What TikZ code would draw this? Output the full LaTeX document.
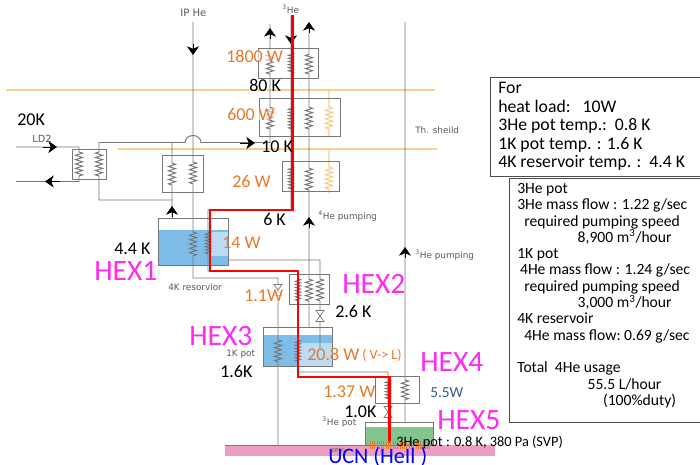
\documentclass[tikz,border=0pt]{standalone}
\usepackage{fontspec}
\usepackage{xcolor}
\setmainfont{Carlito}
\newfontfamily\smallfont{DejaVu Sans}
\usetikzlibrary{arrows.meta,decorations.pathmorphing,fit}
\definecolor{pipegray}{HTML}{777777}
\definecolor{loadorange}{HTML}{E8782A}
\definecolor{shieldorange}{HTML}{F5D08F}
\definecolor{hexpink}{HTML}{FF2BF0}
\definecolor{lhe}{HTML}{7DBDE8}
\definecolor{lhelight}{HTML}{BCDCF2}
\definecolor{pothe}{HTML}{84C48E}
\definecolor{ucnpink}{HTML}{EE9FC1}
\definecolor{coldblue}{HTML}{2F5A8F}

\begin{document}
\begin{tikzpicture}[
    x=0.025cm, y=-0.025cm,
    pipe/.style={draw=pipegray, line width=0.7pt},
    shield/.style={draw=shieldorange, line width=0.8pt},
    hxbox/.style={rectangle, draw=pipegray, line width=0.7pt, inner sep=0pt, outer sep=0pt},
    infobox/.style={rectangle, draw=black!70, line width=0.7pt, inner sep=0pt, outer sep=0pt},
    coil/.style={decoration={zigzag, amplitude=2.5pt, segment length=3.1pt}},
    finecoil/.style={decoration={zigzag, amplitude=1.8pt, segment length=2.2pt}},
    flow/.style={-{Stealth[length=6.2pt, width=8.6pt, inset=1.8pt]}, black, line width=0.6pt},
    hotline/.style={draw=red, line width=1.9pt, line join=miter},
    temp/.style={font=\fontsize{12.8}{14}\selectfont, anchor=west, inner sep=0pt},
    load/.style={font=\fontsize{12.8}{14}\selectfont, text=loadorange, anchor=west, inner sep=0pt},
    hexname/.style={font=\fontsize{21}{24}\selectfont, text=hexpink, anchor=west, inner sep=0pt},
    tag/.style={font=\smallfont\fontsize{6.3}{8}\selectfont, text=black!65, anchor=west, inner sep=0pt},
    valve/.pic={\draw[pipegray, fill=white, line width=0.5pt] (-4,-5.5) -- (4,-5.5) -- (-4,5.5) -- (4,5.5) -- cycle;}
]
\useasboundingbox (0,0) rectangle (700,465);

% Liquid and floor
\fill[ucnpink] (225,445) rectangle (495,456);
\fill[lhe] (158.5,230) rectangle (228,265);
\fill[lhelight] (210,232) rectangle (228,256);
\fill[lhe] (263,335) rectangle (332,366);
\fill[lhelight] (298,343) rectangle (332,366);
\fill[pothe] (365,427) rectangle (433,445);

% Thermal shield levels
\draw[shield] (6,90) -- (435,90);
\draw[shield] (118,149) -- (437,149);
\draw[shield] (329,90) -- (329,107) decorate[coil, decorate] {-- (329,129)} -- (329,136);
\draw[shield] (329,149) -- (329,167) decorate[coil, decorate] {-- (329,190)} -- (329,193);

% Exchanger boxes
\node[hxbox, fit={(258,48) (318,78)}] (stage80) {};
\node[hxbox, fit={(259,98) (340,136)}] (stage10) {};
\node[hxbox, fit={(282,161) (339,191)}] (stage6) {};
\node[hxbox, fit={(72.5,149) (106,179)}] (ldbox) {};
\node[hxbox, fit={(162,155.5) (203.5,192)}] (ipbox) {};
\node[hxbox, fit={(158.5,218) (228,265)}] (reservoir) {};
\node[hxbox, fit={(289,274) (329,304)}] (hextwo) {};
\node[hxbox, fit={(263,327) (332,366)}] (onekpot) {};
\node[hxbox, fit={(375,376) (419,403)}] (hexfour) {};
\node[hxbox, fit={(365,422) (433,445)}] (hepot) {};

% IP He line
\draw[pipe] (193,22) -- (193,162) decorate[coil, decorate] {-- (193,185)} -- (193,232)
    decorate[coil, decorate] {-- (193,256)} -- (193,278) -- (278,278) -- (278,340)
    decorate[coil, decorate] {-- (278,362)} -- (278,445);
\draw[pipe] (225,445) -- (365,445);

% LD2 line
\draw[pipe] (16,147) -- (79,147) -- (79,152) decorate[coil, decorate] {-- (79,176)} -- (79,181.5) -- (16,181.5);

% Return line to the top
\draw[pipe] (172,200) -- (99,200) -- (99,176) decorate[coil, decorate] {-- (99,152)} -- (99,142.5) -- (185,142.5)
    arc[start angle=180, end angle=360, x radius=8, y radius=7] -- (270,142.5) -- (270,129)
    decorate[coil, decorate] {-- (270,107)} -- (270,74) decorate[coil, decorate] {-- (270,53)} -- (270,24);
\draw[pipe] (172,218) -- (172,185) decorate[coil, decorate] {-- (172,162)} -- (172,142.5);

% 4He pumping
\draw[pipe] (309,327) -- (309,301) decorate[coil, decorate] {-- (309,279)} -- (309,190)
    decorate[coil, decorate] {-- (309,167)} -- (309,129) decorate[coil, decorate] {-- (309,107)} -- (309,74)
    decorate[coil, decorate] {-- (309,53)} -- (309,24);
\draw[pipe] (228,260) -- (320,260) -- (320,279) decorate[coil, decorate] {-- (320,301)} -- (320,350);

% 3He pumping
\draw[pipe] (405,22) -- (405,380) decorate[coil, decorate] {-- (405,400)} -- (405,422);

% 3He line
\draw[pipe] (291,16) -- (291,53) decorate[finecoil, decorate] {-- (291,74)} -- (291,107)
    decorate[finecoil, decorate] {-- (291,129)} -- (291,167) decorate[finecoil, decorate] {-- (291,190)}
    -- (291,210) -- (208,210) -- (208,232) decorate[finecoil, decorate] {-- (208,254)} -- (208,271)
    -- (298,271) -- (298,279) decorate[finecoil, decorate] {-- (298,301)} -- (298,340)
    decorate[finecoil, decorate] {-- (298,362)} -- (298,372) -- (388,372) -- (388,380)
    decorate[finecoil, decorate] {-- (388,400)} -- (388,425);

% Valves
\pic at (278,290) {valve};
\pic at (320,316) {valve};
\pic at (388,412) {valve};

% Flow arrows
\draw[flow] (193,44) -- (193,55);
\draw[flow] (43,147) -- (57,147);
\draw[flow] (60,181.5) -- (45,181.5);
\draw[flow] (172,217) -- (172,206);
\draw[flow] (270,39) -- (270,28);
\draw[flow] (291,33) -- (291,44);
\draw[flow] (309,33) -- (309,22);
\draw[flow] (309,228) -- (309,217);
\draw[flow] (405,258) -- (405,247);
\draw[flow] (240,143) -- (255,143);

% Hot path
\draw[hotline] (292.5,15) -- (292.5,210) -- (210,210) -- (210,271) -- (298,271) -- (298,377) -- (389.5,377) -- (389.5,443);

% UCN converter
\foreach \x in {370,372.3,...,430}
    \draw[loadorange, line width=0.5pt] (\x,441) -- (\x,449);

% Heat loads
\node[load, fill=white, fill opacity=0.6, text opacity=1] (load1800) at (226,56) {1800 W};
\node[load, fill=white, fill opacity=0.6, text opacity=1] (load600) at (227,114) {600 W};
\node[load] (load26) at (232,181) {26 W};
\node[load] (load14) at (222,243) {14 W};
\node[load, fill=white, fill opacity=0.6, text opacity=1] (load11) at (244,296) {1.1W};
\node[load] (load208) at (307,354) {20.8 W};
\node[load, font=\fontsize{10}{12}\selectfont] (loadvl) at (362,355) {( V-> L)};
\node[load] (load137) at (323,392) {1.37 W};
\node[temp, text=coldblue, font=\fontsize{10.9}{12}\selectfont] (load55) at (430,393) {5.5W};

% Temperatures
\node[temp] (temp20) at (17,120) {20K};
\node[temp] (temp80) at (249,85) {80 K};
\node[temp] (temp10) at (261,147) {10 K};
\node[temp] (temp6) at (263,219) {6 K};
\node[temp] (temp44) at (114,249) {4.4 K};
\node[temp] (temp26) at (335,311) {2.6 K};
\node[temp] (temp16) at (220,371) {1.6K};
\node[temp] (temp10b) at (344,412) {1.0K};

% Exchanger names
\node[hexname] (hexnameone) at (94,271) {HEX1};
\node[hexname] (hexnametwo) at (342,284) {HEX2};
\node[hexname] (hexnamethree) at (189,336) {HEX3};
\node[hexname] (hexnamefour) at (420,362) {HEX4};
\node[hexname] (hexnamefive) at (437,420) {HEX5};

% Small labels
\node[tag, font=\smallfont\fontsize{7.2}{8}\selectfont] (tagip) at (180,13) {IP He};
\node[tag, font=\smallfont\fontsize{7}{8}\selectfont] (tagld) at (32,139) {LD2};
\node[tag] (taghe) at (282,9) {\textsuperscript{3}He};
\node[tag] (tagshield) at (415,130) {Th. sheild};
\node[tag] (tagfour) at (318,216) {\textsuperscript{4}He pumping};
\node[tag] (tagthree) at (415,255) {\textsuperscript{3}He pumping};
\node[tag] (tagres) at (168,287) {4K resorvior};
\node[tag] (tagonek) at (226,354) {1K pot};
\node[tag] (tagpot) at (322,422) {\textsuperscript{3}He pot};
\node[tag, font=\smallfont\fontsize{4}{5}\selectfont] (tagiph) at (331,451) {(IPH)};

% Bottom labels
\node[anchor=west, inner sep=0pt, font=\fontsize{10.2}{11}\selectfont] (potnote) at (396,442) {3He pot : 0.8 K, 380 Pa (SVP)};
\node[anchor=west, inner sep=0pt, text=blue, font=\fontsize{15.7}{18}\selectfont] (ucn) at (328,457) {UCN (HeIl )};

% Summary boxes
\node[infobox, fit={(490,77) (704,176)}] (forbox) {};
\node[infobox, fit={(509,178) (704,422)}] (flowbox) {};
\node[anchor=north west, align=left, inner sep=0pt, font=\fontsize{12.6}{13.2}\selectfont] (fortext) at (498,82)
    {For\\heat load:\ \ \ 10W\\3He pot temp.:\ \ 0.8 K\\1K pot temp. : 1.6 K\\4K reservoir temp. :\ \ 4.4 K};
\node[anchor=north west, align=left, inner sep=0pt, font=\fontsize{11.1}{11.6}\selectfont] (flowtext) at (517,183)
    {3He pot\\
    3He mass flow : 1.22 g/sec\\
    \hspace{5pt}required pumping speed\\
    \hspace{43pt}8,900 m\textsuperscript{3}/hour\\
    1K pot\\
    \hspace{2pt}4He mass flow : 1.24 g/sec\\
    \hspace{5pt}required pumping speed\\
    \hspace{43pt}3,000 m\textsuperscript{3}/hour\\
    4K reservoir\\
    \hspace{5pt}4He mass flow:\ 0.69 g/sec\\[11.6pt]
    Total\ \ 4He usage\\
    \hspace{50pt}55.5 L/hour\\
    \hspace{61pt}(100\%duty)};
\end{tikzpicture}
\end{document}
